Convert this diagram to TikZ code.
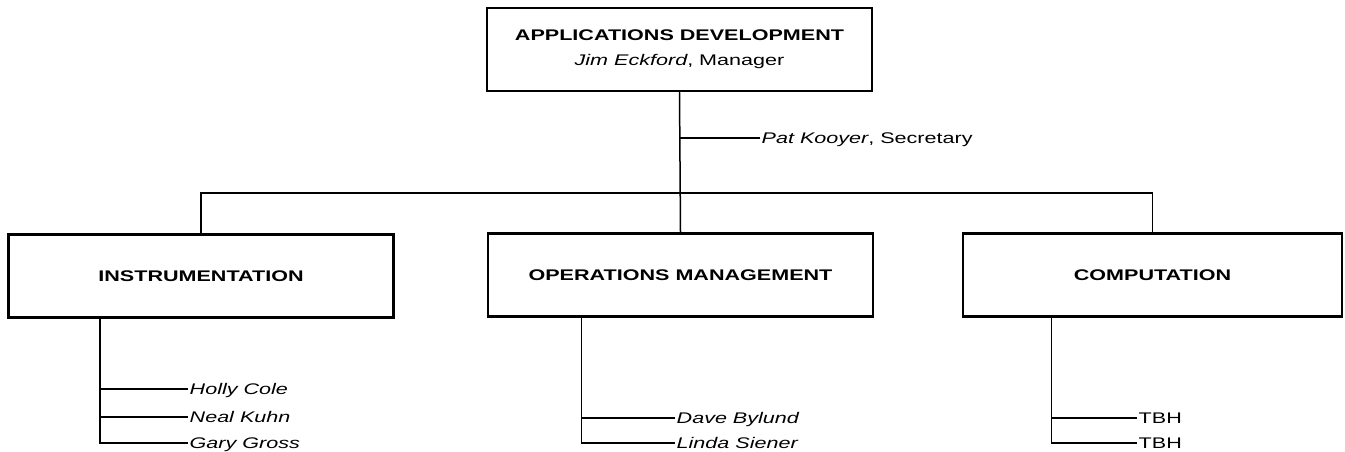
\documentclass[tikz,border=0pt]{standalone}
\usepackage{fontspec}
\setmainfont{Liberation Sans}[FakeStretch=1.40]
\tikzset{
  orgnode/.style = {align=center, inner sep=0pt, text centered,
    font=\fontsize{15.4}{25}\selectfont},
  org_box/.style = {orgnode, rectangle, draw=black, line width=2.8pt,
    minimum width=385, minimum height=83},% boite de service
  org_title/.style = {org_box, font=\fontsize{15.4}{25}\selectfont\bfseries,
    text height=11pt, text depth=0pt},% titre seul
  org_name/.style = {orgnode, anchor=west, inner sep=1.5pt,
    text height=11pt, text depth=0pt},% nom, personnel
  org_link/.style = {draw=black, line width=1.5pt}
}

\begin{document}
\begin{tikzpicture}[x=1pt,y=-1pt]
\useasboundingbox (0,0) rectangle (1345,452);
\node [org_box] (top) at (679.5,49.5)
  {\textbf{APPLICATIONS DEVELOPMENT}\\ \textit{Jim Eckford}, Manager};
\node [org_title] (instr) at (201,276) {INSTRUMENTATION};
\node [org_title] (ops) at (680.5,275) {OPERATIONS MANAGEMENT};
\node [org_title, minimum width=379] (comp) at (1152.5,275) {COMPUTATION};

\node [org_name] (sec) at (760,138) {\textit{Pat Kooyer}, Secretary};
\node [org_name] (holly) at (188,389) {\textit{Holly Cole}};
\node [org_name] (neal) at (188,417) {\textit{Neal Kuhn}};
\node [org_name] (gary) at (188,443) {\textit{Gary Gross}};
\node [org_name] (dave) at (675,418) {\textit{Dave Bylund}};
\node [org_name] (linda) at (675,443) {\textit{Linda Siener}};
\node [org_name] (tbh1) at (1137,418) {TBH};
\node [org_name] (tbh2) at (1137,443) {TBH};

\coordinate (bus) at (680,193);
\draw [org_link] (top.south) -- (ops.north);
\draw [org_link] (instr.north) |- (bus) -| (comp.north);
\draw [org_link] (sec.west) -| (top.south);
% listes sous chaque service
\draw [org_link] (gary.west) -| ([xshift=93]instr.south west);
\draw [org_link] (neal.west) -| ([xshift=93]instr.south west);
\draw [org_link] (holly.west) -| ([xshift=93]instr.south west);
\draw [org_link] (linda.west) -| ([xshift=95]ops.south west);
\draw [org_link] (dave.west) -| ([xshift=95]ops.south west);
\draw [org_link] (tbh2.west) -| ([xshift=90]comp.south west);
\draw [org_link] (tbh1.west) -| ([xshift=90]comp.south west);
\end{tikzpicture}
\end{document}
